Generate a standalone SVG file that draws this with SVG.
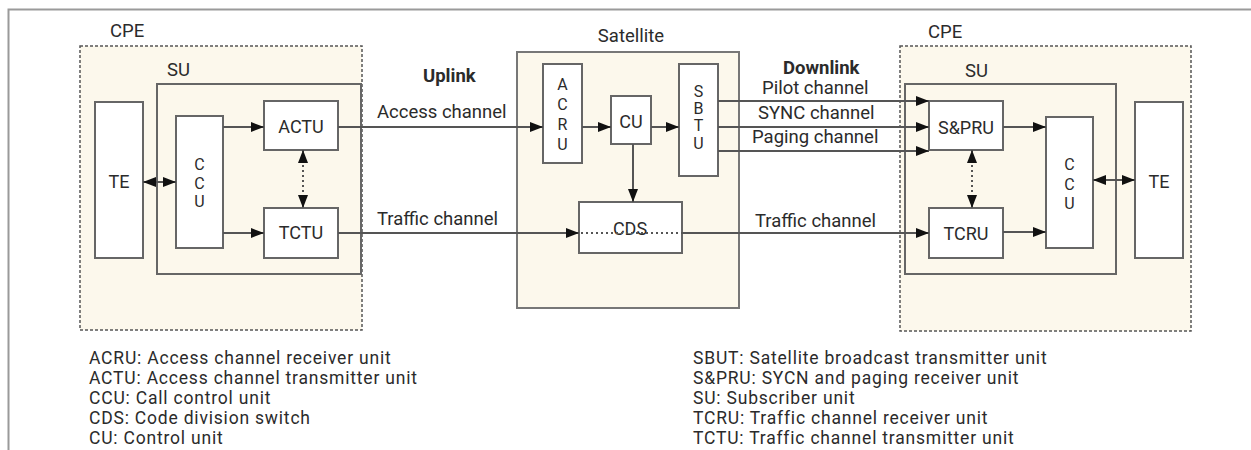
<svg xmlns="http://www.w3.org/2000/svg" width="1251" height="450" viewBox="0 0 1251 450">
  <defs>
    <marker id="arr" viewBox="0 0 13 10" refX="13" refY="5" markerWidth="13" markerHeight="10" markerUnits="userSpaceOnUse" orient="auto-start-reverse">
      <path d="M0,0 L13,5 L0,10 z" fill="#111"/>
    </marker>
    <style>
      text { font-family: Roboto, "Liberation Sans", Arial, sans-serif; fill: #2b2b2b; }
      .lbl { font-size: 18.5px; }
      .bold { font-size: 18.5px; font-weight: bold; }
      .box { font-size: 18px; text-anchor: middle; }
      .vert { font-size: 16px; text-anchor: middle; }
      .legend { font-size: 17.5px; letter-spacing: 0.8px; }
      .region { fill: #fcf8ec; stroke: #555; stroke-width: 1.5; stroke-dasharray: 3 2; }
      .su { fill: #fcf8ec; stroke: #666; stroke-width: 2; }
      .sat { fill: #fcf8ec; stroke: #777; stroke-width: 2; }
      .unit { fill: #ffffff; stroke: #666; stroke-width: 2; }
      .link { fill: none; stroke: #555; stroke-width: 2; }
      .dot { fill: none; stroke: #555; stroke-width: 2; stroke-dasharray: 2 3; }
    </style>
  </defs>

  <rect width="1251" height="450" fill="#ffffff"/>
  <!-- outer frame -->
  <rect x="8.5" y="9.5" width="1300" height="500" fill="none" stroke="#9a9a9a" stroke-width="2"/>

  <!-- left customer premises -->
  <g id="cpe-left">
    <rect class="region" x="80" y="46" width="282" height="284"/>
    <text class="lbl" x="110" y="37">CPE</text>
  </g>
  <g id="su-left">
    <rect class="su" x="157" y="84" width="204" height="190"/>
    <text class="lbl" x="167" y="76">SU</text>
  </g>
  <g id="te-left">
    <rect class="unit" x="95" y="102" width="48" height="156"/>
    <text class="box" x="119" y="188">TE</text>
  </g>
  <g id="ccu-left">
    <rect class="unit" x="176" y="116" width="47" height="132"/>
    <text class="vert" x="199.5" y="170">C</text>
    <text class="vert" x="199.5" y="189">C</text>
    <text class="vert" x="199.5" y="207">U</text>
  </g>
  <g id="actu">
    <rect class="unit" x="264" y="101" width="74" height="49"/>
    <text class="box" x="301" y="133">ACTU</text>
  </g>
  <g id="tctu">
    <rect class="unit" x="264" y="208" width="74" height="50"/>
    <text class="box" x="301" y="239">TCTU</text>
  </g>

  <!-- satellite -->
  <g id="satellite">
    <rect class="sat" x="517" y="52" width="222" height="256"/>
    <text class="lbl" x="631" y="42" text-anchor="middle">Satellite</text>
  </g>
  <g id="acru">
    <rect class="unit" x="543" y="64" width="39" height="99"/>
    <text class="vert" x="562.5" y="90">A</text>
    <text class="vert" x="562.5" y="110">C</text>
    <text class="vert" x="562.5" y="130">R</text>
    <text class="vert" x="562.5" y="150">U</text>
  </g>
  <g id="cu">
    <rect class="unit" x="611" y="96" width="40" height="48"/>
    <text class="box" x="631" y="128">CU</text>
  </g>
  <g id="sbtu">
    <rect class="unit" x="679" y="64" width="39" height="112"/>
    <text class="vert" x="698.5" y="97">S</text>
    <text class="vert" x="698.5" y="114">B</text>
    <text class="vert" x="698.5" y="131">T</text>
    <text class="vert" x="698.5" y="149">U</text>
  </g>
  <g id="cds">
    <rect class="unit" x="579" y="202" width="103" height="51"/>
    <text class="box" x="630" y="235">CDS</text>
  </g>

  <!-- right customer premises -->
  <g id="cpe-right">
    <rect class="region" x="900" y="46" width="291" height="285"/>
    <text class="lbl" x="928" y="38">CPE</text>
  </g>
  <g id="su-right">
    <rect class="su" x="905" y="84" width="211" height="190"/>
    <text class="lbl" x="965" y="77">SU</text>
  </g>
  <g id="spru">
    <rect class="unit" x="929" y="101" width="74" height="49"/>
    <text class="box" x="966" y="134">S&amp;PRU</text>
  </g>
  <g id="tcru">
    <rect class="unit" x="929" y="208" width="74" height="50"/>
    <text class="box" x="966" y="240">TCRU</text>
  </g>
  <g id="ccu-right">
    <rect class="unit" x="1046" y="117" width="47" height="131"/>
    <text class="vert" x="1069.5" y="170">C</text>
    <text class="vert" x="1069.5" y="190">C</text>
    <text class="vert" x="1069.5" y="209">U</text>
  </g>
  <g id="te-right">
    <rect class="unit" x="1135" y="102" width="48" height="156"/>
    <text class="box" x="1159" y="188">TE</text>
  </g>

  <!-- link labels -->
  <g id="link-labels">
    <text class="bold" x="423" y="82">Uplink</text>
    <text class="lbl" x="377" y="118">Access channel</text>
    <text class="lbl" x="377" y="225">Traffic channel</text>
    <text class="bold" x="783" y="74">Downlink</text>
    <text class="lbl" x="762" y="94">Pilot channel</text>
    <text class="lbl" x="758" y="119">SYNC channel</text>
    <text class="lbl" x="752" y="143">Paging channel</text>
    <text class="lbl" x="755" y="227">Traffic channel</text>
  </g>

  <!-- connectors -->
  <g id="connectors">
    <line class="link" x1="143" y1="182" x2="176" y2="182" marker-start="url(#arr)" marker-end="url(#arr)"/>
    <line class="link" x1="223" y1="127" x2="264" y2="127" marker-end="url(#arr)"/>
    <line class="link" x1="223" y1="233" x2="264" y2="233" marker-end="url(#arr)"/>
    <line class="dot" x1="303" y1="150" x2="303" y2="208" marker-start="url(#arr)" marker-end="url(#arr)"/>
    <line class="link" x1="338" y1="127" x2="543" y2="127" marker-end="url(#arr)"/>
    <line class="link" x1="338" y1="233" x2="579" y2="233" marker-end="url(#arr)"/>
    <line class="dot" x1="581" y1="233" x2="682" y2="233"/>
    <line class="link" x1="582" y1="127" x2="611" y2="127" marker-end="url(#arr)"/>
    <line class="link" x1="651" y1="127" x2="679" y2="127" marker-end="url(#arr)"/>
    <line class="link" x1="633" y1="144" x2="633" y2="202" marker-end="url(#arr)"/>
    <line class="link" x1="718" y1="101" x2="929" y2="101" marker-end="url(#arr)"/>
    <line class="link" x1="718" y1="127" x2="929" y2="127" marker-end="url(#arr)"/>
    <line class="link" x1="718" y1="151" x2="929" y2="151" marker-end="url(#arr)"/>
    <line class="link" x1="682" y1="233" x2="929" y2="233" marker-end="url(#arr)"/>
    <line class="dot" x1="972" y1="150" x2="972" y2="208" marker-start="url(#arr)" marker-end="url(#arr)"/>
    <line class="link" x1="1003" y1="127" x2="1046" y2="127" marker-end="url(#arr)"/>
    <line class="link" x1="1003" y1="232" x2="1046" y2="232" marker-end="url(#arr)"/>
    <line class="link" x1="1093" y1="180" x2="1135" y2="180" marker-start="url(#arr)" marker-end="url(#arr)"/>
  </g>

  <!-- abbreviations -->
  <g id="legend-left">
    <text class="legend" x="89" y="364">ACRU: Access channel receiver unit</text>
    <text class="legend" x="89" y="384">ACTU: Access channel transmitter unit</text>
    <text class="legend" x="89" y="404">CCU: Call control unit</text>
    <text class="legend" x="89" y="424">CDS: Code division switch</text>
    <text class="legend" x="89" y="444">CU: Control unit</text>
  </g>
  <g id="legend-right">
    <text class="legend" x="693" y="364">SBUT: Satellite broadcast transmitter unit</text>
    <text class="legend" x="693" y="384">S&amp;PRU: SYCN and paging receiver unit</text>
    <text class="legend" x="693" y="404">SU: Subscriber unit</text>
    <text class="legend" x="693" y="424">TCRU: Traffic channel receiver unit</text>
    <text class="legend" x="693" y="444">TCTU: Traffic channel transmitter unit</text>
  </g>
</svg>
